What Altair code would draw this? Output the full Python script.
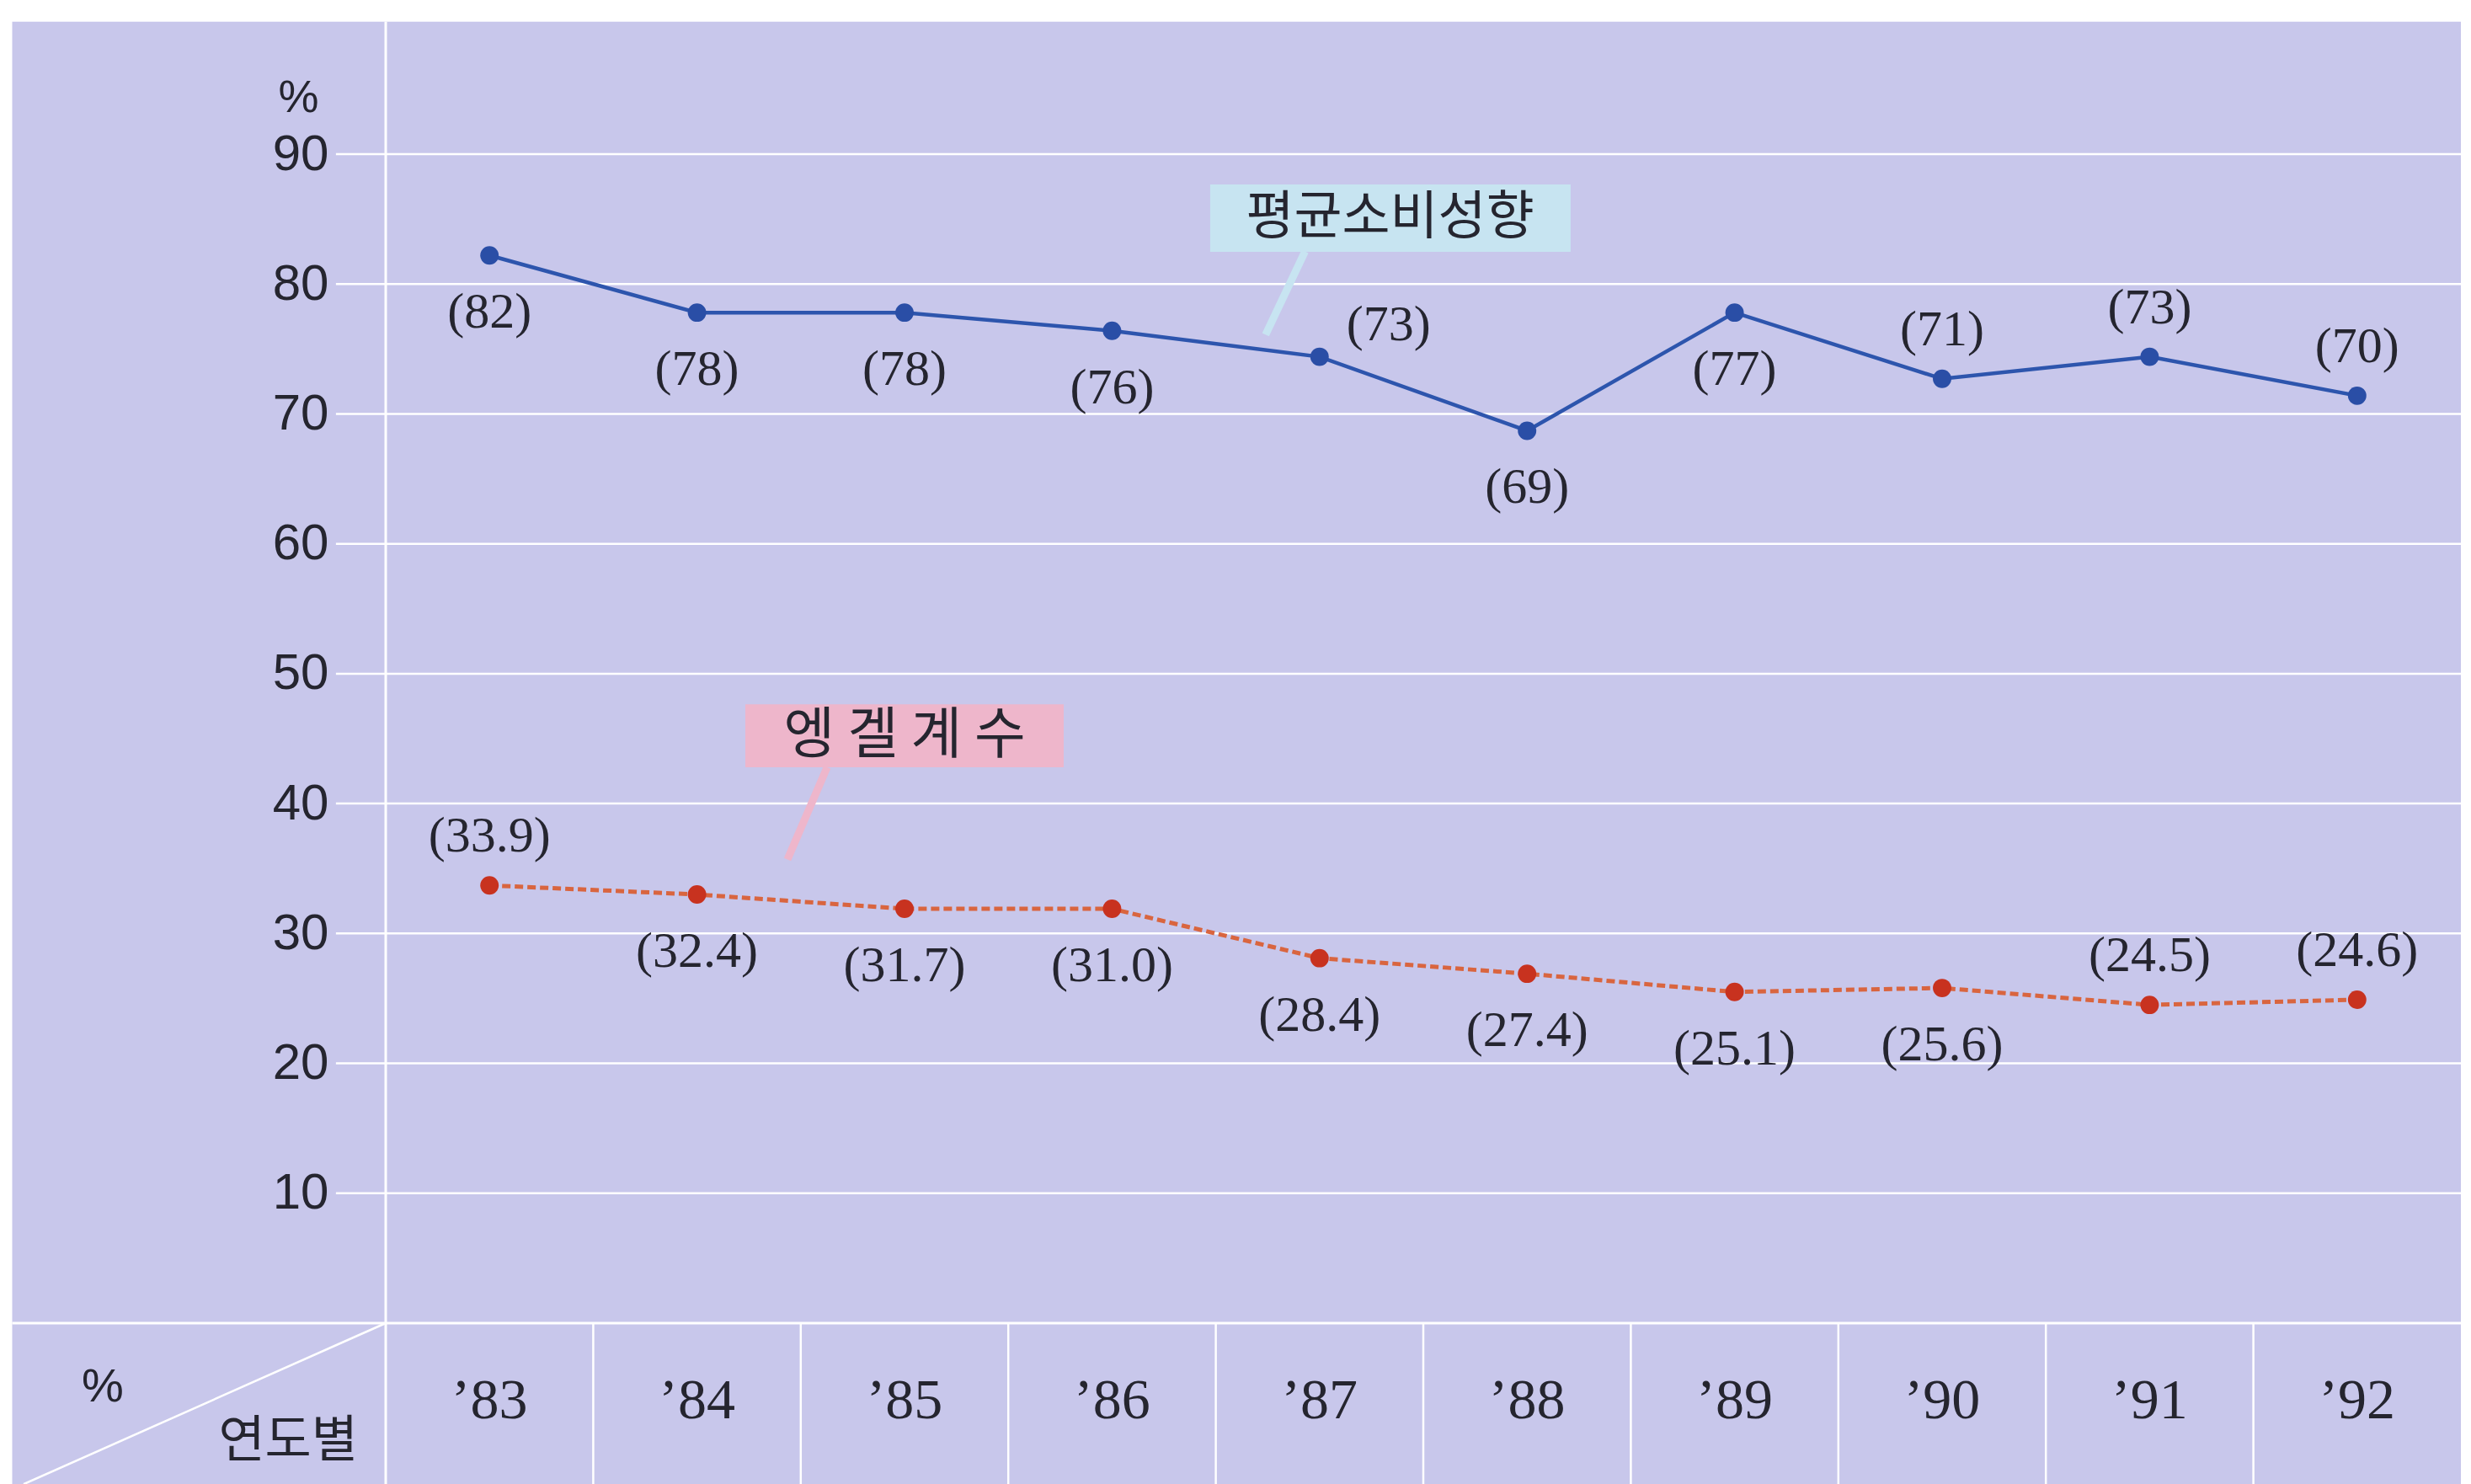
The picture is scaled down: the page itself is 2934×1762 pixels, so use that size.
import altair as alt
import pandas as pd

# ---------------- data ----------------
years = [1983, 1984, 1985, 1986, 1987, 1988, 1989, 1990, 1991, 1992]
year_labels = ["’83", "’84", "’85", "’86", "’87", "’88", "’89", "’90", "’91", "’92"]

apc_values = [82.2, 77.8, 77.8, 76.4, 74.4, 68.7, 77.8, 72.7, 74.4, 71.4]
apc_labels = ["(82)", "(78)", "(78)", "(76)", "(73)", "(69)", "(77)", "(71)", "(73)", "(70)"]
apc_place = ["below", "below", "below", "below", "right", "below", "below", "above", "above", "above"]

engel_values = [33.7, 33.0, 31.9, 31.9, 28.1, 26.9, 25.5, 25.8, 24.5, 24.9]
engel_labels = ["(33.9)", "(32.4)", "(31.7)", "(31.0)", "(28.4)", "(27.4)", "(25.1)", "(25.6)", "(24.5)", "(24.6)"]
engel_place = ["above", "below", "below", "below", "below", "below", "below", "below", "above", "above"]

y_ticks = [10, 20, 30, 40, 50, 60, 70, 80, 90]

# ---------------- layout constants (data units) ----------------
X0, X1 = 1982.5, 1992.5          # plot columns
BG_LEFT, BG_TOP, BG_BOTTOM = 1980.70, 100.2, -12.4
W, H = 2464, 1388

BG = "#c8c7eb"
TXT = "#25252f"
SERIF = "Liberation Serif"
SANS = "Liberation Sans"
KR = "Noto Sans CJK KR"

xs = alt.Scale(domain=[X0, X1], nice=False, zero=False)
ys = alt.Scale(domain=[0, 90], nice=False, zero=False)
y_axis = alt.Axis(values=y_ticks, domain=False, ticks=False, grid=False, title=None, zindex=1,
                  labelFont=SANS, labelFontSize=60, labelColor=TXT, labelPadding=68)

def X(f="x"):
    return alt.X(f"{f}:Q", scale=xs, axis=None)

def Y(f="y"):
    return alt.Y(f"{f}:Q", scale=ys, axis=y_axis, title=None)

# background
bg = alt.Chart(pd.DataFrame({"x": [BG_LEFT], "x2": [X1], "y": [BG_BOTTOM], "y2": [BG_TOP]})).mark_rect(
    color=BG
).encode(x=X(), x2="x2:Q", y=Y(), y2="y2:Q")

# gridlines
grid = alt.Chart(pd.DataFrame({"y": y_ticks, "x": [X0 - 0.24] * len(y_ticks), "x2": [X1] * len(y_ticks)})).mark_rule(
    color="white", strokeWidth=2.5
).encode(x=X(), x2="x2:Q", y=Y())

# table top line, vertical axis line, column dividers, diagonal
table_top = alt.Chart(pd.DataFrame({"x": [BG_LEFT], "x2": [X1], "y": [0]})).mark_rule(
    color="white", strokeWidth=3).encode(x=X(), x2="x2:Q", y=Y())
vaxis = alt.Chart(pd.DataFrame({"x": [X0], "y": [BG_BOTTOM], "y2": [BG_TOP]})).mark_rule(
    color="white", strokeWidth=3).encode(x=X(), y=Y(), y2="y2:Q")
divs = alt.Chart(pd.DataFrame({"x": [y + 0.5 for y in years[:-1]], "y": [BG_BOTTOM] * 9, "y2": [0] * 9})).mark_rule(
    color="white", strokeWidth=2.5).encode(x=X(), y=Y(), y2="y2:Q")
diag = alt.Chart(pd.DataFrame({"x": [1980.755], "x2": [X0], "y": [BG_BOTTOM], "y2": [0]})).mark_rule(
    color="white", strokeWidth=2.5).encode(x=X(), x2="x2:Q", y=Y(), y2="y2:Q")

# stub texts
stub = alt.Chart(pd.DataFrame({"x": [1981.136], "y": [-4.93], "t": ["%"]})).mark_text(
    font=SANS, fontSize=56, color=TXT).encode(x=X(), y=Y(), text="t:N")
stub2 = alt.Chart(pd.DataFrame({"x": [1982.03], "y": [-9.14], "t": ["연도별"]})).mark_text(
    font=KR, fontSize=60, color=TXT).encode(x=X(), y=Y(), text="t:N")
top_pct = alt.Chart(pd.DataFrame({"x": [1982.08], "y": [94.3], "t": ["%"]})).mark_text(
    font=SANS, fontSize=54, color=TXT).encode(x=X(), y=Y(), text="t:N")

# year labels
yl = alt.Chart(pd.DataFrame({"x": years, "y": [-6.0] * 10, "t": year_labels})).mark_text(
    font=SERIF, fontSize=68, color=TXT).encode(x=X(), y=Y(), text="t:N")

# annotation boxes
box1 = alt.Chart(pd.DataFrame({"x": [1986.473], "x2": [1988.21], "y": [82.48], "y2": [87.67]})).mark_rect(
    color="#c7e4f1").encode(x=X(), x2="x2:Q", y=Y(), y2="y2:Q")
ptr1 = alt.Chart(pd.DataFrame({"x": [1986.93], "x2": [1986.74], "y": [82.5], "y2": [76.1]})).mark_rule(
    color="#c7e4f1", strokeWidth=9).encode(x=X(), x2="x2:Q", y=Y(), y2="y2:Q")
txt1 = alt.Chart(pd.DataFrame({"x": [1987.34], "y": [85.1], "t": ["평균소비성향"]})).mark_text(
    font=KR, fontSize=62, color=TXT).encode(x=X(), y=Y(), text="t:N")

box2 = alt.Chart(pd.DataFrame({"x": [1984.233], "x2": [1985.767], "y": [42.79], "y2": [47.65]})).mark_rect(
    color="#eeb6cb").encode(x=X(), x2="x2:Q", y=Y(), y2="y2:Q")
ptr2 = alt.Chart(pd.DataFrame({"x": [1984.627], "x2": [1984.436], "y": [42.8], "y2": [35.7]})).mark_rule(
    color="#eeb6cb", strokeWidth=9).encode(x=X(), x2="x2:Q", y=Y(), y2="y2:Q")
txt2 = alt.Chart(pd.DataFrame({"x": [1985.0], "y": [45.2], "t": ["엥 겔 계 수"]})).mark_text(
    font=KR, fontSize=66, color=TXT).encode(x=X(), y=Y(), text="t:N")

# series
df_apc = pd.DataFrame({"year": years, "value": apc_values, "label": apc_labels, "place": apc_place})
df_eng = pd.DataFrame({"year": years, "value": engel_values, "label": engel_labels, "place": engel_place})

def series(df, line_color, dot_color, width, dash=None):
    base = alt.Chart(df).encode(x=X("year"), y=Y("value"))
    line_kw = dict(color=line_color, strokeWidth=width)
    if dash:
        line_kw["strokeDash"] = dash
    line = base.mark_line(**line_kw)
    pts = base.mark_point(filled=True, size=480, color=dot_color, opacity=1)
    tb = base.encode(text="label:N")
    fs = 60
    below = tb.mark_text(font=SERIF, fontSize=fs, color=TXT, dy=68).transform_filter(alt.datum.place == "below")
    above = tb.mark_text(font=SERIF, fontSize=fs, color=TXT, dy=-58).transform_filter(alt.datum.place == "above")
    right = tb.mark_text(font=SERIF, fontSize=fs, color=TXT, dy=-38, dx=82).transform_filter(alt.datum.place == "right")
    return [line, pts, below, above, right]

layers = [bg, grid, table_top, vaxis, divs, diag, stub, stub2, top_pct, yl,
          box1, ptr1, txt1, box2, ptr2, txt2]
layers += series(df_apc, "#2d55ad", "#2a4ea6", 4.5)
layers += series(df_eng, "#d9653f", "#c8321f", 5, dash=[10, 5])

chart = alt.layer(*layers).properties(
    width=W, height=H,
    padding={"left": 450, "top": 175, "right": 4, "bottom": 191},
    autosize=alt.AutoSizeParams(type="none"),
    background="white",
).configure_view(stroke=None)

chart.save("out.html", embed_options={"renderer": "svg", "actions": False})
